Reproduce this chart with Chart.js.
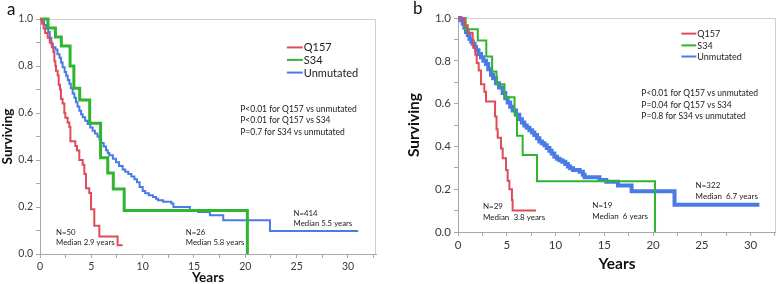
<!DOCTYPE html>
<html>
<head>
<meta charset="utf-8">
<script src="https://cdn.jsdelivr.net/npm/chart.js@4.4.1/dist/chart.umd.min.js"></script>
<style>
  html, body { margin: 0; padding: 0; background: #fff; }
  body { width: 777px; height: 284px; position: relative; overflow: hidden; }
  .panel { position: absolute; top: 0; height: 284px; }
  #wrap-a { left: 0; width: 386px; }
  #wrap-b { left: 390px; width: 387px; }
  .tag { position: absolute; font-family: Lato, sans-serif; font-size: 17px; color: #111; line-height: 1; }
</style>
</head>
<body>
<div class="panel" id="wrap-a"><canvas id="chart-a" width="386" height="284"></canvas></div>
<div class="panel" id="wrap-b"><canvas id="chart-b" width="387" height="284"></canvas></div>
<div class="tag" style="left:7px; top:0px;">a</div>
<div class="tag" style="left:413px; top:-1px;">b</div>
<script>
// --- Panel a: survival by group ---
const aQ157Years = [0, 0.2, 0.35, 0.5, 0.75, 0.95, 1.15, 1.3, 1.4, 1.5, 1.56, 1.72, 1.82, 1.95, 2.04, 2.2, 2.37, 2.47, 2.69, 2.86, 2.96, 3.44, 3.6, 3.83, 4.16, 4.32, 4.48, 4.8, 4.97, 5.29, 5.78, 7.56, 8.05];
const aQ157Surv  = [1, 0.98, 0.96, 0.94, 0.92, 0.9, 0.88, 0.86, 0.82, 0.8, 0.78, 0.76, 0.72, 0.7, 0.66, 0.64, 0.6, 0.58, 0.56, 0.54, 0.48, 0.46, 0.44, 0.4, 0.38, 0.34, 0.28, 0.26, 0.19, 0.12, 0.075, 0.037, 0.037];

const aS34Years = [0, 0.78, 1.5, 2.08, 2.93, 3.3, 3.87, 4.84, 5.9, 6.6, 7.14, 8.2, 20.2];
const aS34Surv  = [1, 0.962, 0.923, 0.885, 0.8, 0.705, 0.655, 0.556, 0.41, 0.345, 0.277, 0.185, 0];

const aUnmutYears = [0, 0.2, 0.4, 0.6, 0.8, 0.95, 1.1, 1.25, 1.5, 1.7, 1.9, 2.05, 2.2, 2.4, 2.55, 2.7, 2.86, 3.0, 3.18, 3.35, 3.5, 3.65, 3.83, 4.0, 4.16, 4.4, 4.64, 4.9, 5.13, 5.35, 5.6, 5.8, 5.95, 6.2, 6.43, 6.6, 6.75, 7.1, 7.4, 7.7, 8.05, 8.3, 8.6, 8.9, 9.2, 9.45, 9.7, 10.0, 10.25, 10.6, 11.0, 11.3, 11.5, 12.0, 12.8, 13.0, 14.6, 15.4, 16.55, 17.85, 22.4, 31.0];
const aUnmutSurv  = [1, 0.99, 0.975, 0.96, 0.945, 0.92, 0.895, 0.88, 0.87, 0.85, 0.835, 0.815, 0.795, 0.775, 0.758, 0.74, 0.724, 0.705, 0.683, 0.665, 0.646, 0.628, 0.61, 0.595, 0.582, 0.567, 0.553, 0.538, 0.525, 0.513, 0.5, 0.487, 0.472, 0.457, 0.442, 0.43, 0.42, 0.405, 0.39, 0.375, 0.36, 0.35, 0.34, 0.33, 0.318, 0.305, 0.285, 0.268, 0.258, 0.25, 0.243, 0.235, 0.229, 0.222, 0.215, 0.2, 0.186, 0.179, 0.165, 0.144, 0.098, 0.098];

// --- Panel b ---
const bQ157Years = [0, 0.65, 1.0, 1.5, 1.57, 1.78, 1.92, 2.12, 2.36, 2.7, 2.87, 3.8, 3.95, 4.07, 4.41, 4.58, 4.92, 5.09, 5.27, 5.53, 5.6, 8.0];
const bQ157Surv  = [1, 0.966, 0.931, 0.897, 0.862, 0.828, 0.79, 0.755, 0.69, 0.655, 0.61, 0.54, 0.48, 0.44, 0.39, 0.345, 0.29, 0.24, 0.2, 0.15, 0.1, 0.1];

const bS34Years = [0, 0.78, 2.03, 2.9, 3.5, 3.95, 4.77, 5.8, 6.05, 6.63, 8.1, 20.2];
const bS34Surv  = [1, 0.947, 0.895, 0.82, 0.75, 0.69, 0.63, 0.55, 0.45, 0.36, 0.237, 0];

const bUnmutYears = [0, 0.25, 0.48, 0.65, 0.82, 1.0, 1.17, 1.35, 1.5, 1.7, 1.85, 2.1, 2.36, 2.6, 2.87, 3.1, 3.38, 3.6, 3.89, 4.2, 4.58, 4.85, 5.09, 5.35, 5.6, 5.95, 6.29, 6.55, 6.8, 7.05, 7.32, 7.6, 7.83, 8.1, 8.34, 8.6, 8.86, 9.1, 9.37, 9.6, 9.88, 10.15, 10.4, 10.7, 11.0, 11.27, 11.5, 11.79, 12.47, 12.8, 12.98, 14.5, 15.2, 16.4, 17.8, 22.2, 30.9];
const bUnmutSurv  = [1, 0.99, 0.974, 0.955, 0.935, 0.92, 0.903, 0.89, 0.88, 0.865, 0.849, 0.832, 0.817, 0.8, 0.785, 0.76, 0.735, 0.718, 0.695, 0.675, 0.65, 0.625, 0.605, 0.585, 0.568, 0.548, 0.527, 0.512, 0.498, 0.487, 0.476, 0.465, 0.453, 0.438, 0.423, 0.415, 0.405, 0.393, 0.38, 0.367, 0.352, 0.342, 0.335, 0.328, 0.318, 0.306, 0.298, 0.29, 0.282, 0.267, 0.256, 0.243, 0.235, 0.217, 0.19, 0.127, 0.127];

// tick labels
const seriesNames = ['Q157', 'S34', 'Unmutated'];
const xTickLabels = [0, 5, 10, 15, 20, 25, 30];
const yTickLabels = [0, 0.2, 0.4, 0.6, 0.8, 1.0];

const aPText = ['P<0.01 for Q157 vs unmutated', 'P<0.01 for Q157 vs S34', 'P=0.7 for S34 vs unmutated'];
const bPText = ['P<0.01 for Q157 vs unmutated', 'P=0.04 for Q157 vs S34', 'P=0.8 for S34 vs unmutated'];
const aGroupNotes = [['N=50', 'Median 2.9 years'], ['N=26', 'Median 5.8 years'], ['N=414', 'Median 5.5 years']];
const bGroupNotes = [['N=29', 'Median  3.8 years'], ['N=19', 'Median  6 years'], ['N=322', 'Median  6.7 years']];

const RED = '#e04b5a';
const GREEN = '#2fb52f';
const BLUE = '#4a7ae6';
const FONT = 'Lato, "Open Sans", sans-serif';

function toPoints(xs, ys) {
    return xs.map((x, i) => ({ x: x, y: ys[i] }));
}

// frame, legend and text notes inside the plot area
const panelDecor = {
    id: 'panelDecor',
    beforeDatasetsDraw(chart, args, opts) {
        const { ctx, chartArea: ca } = chart;
        ctx.save();
        ctx.strokeStyle = '#cfcfcf';
        ctx.lineWidth = 1;
        ctx.beginPath();
        ctx.moveTo(ca.left, ca.top + 0.5);
        ctx.lineTo(ca.right - 0.5, ca.top + 0.5);
        ctx.lineTo(ca.right - 0.5, ca.bottom);
        ctx.stroke();
        ctx.restore();
    },
    afterDatasetsDraw(chart, args, opts) {
        const { ctx, scales: { x, y } } = chart;
        ctx.save();
        ctx.textBaseline = 'middle';
        ctx.textAlign = 'left';
        // legend
        const lg = opts.legend;
        chart.data.datasets.forEach((ds, i) => {
            const py = y.getPixelForValue(lg.rows[i]);
            ctx.strokeStyle = ds.borderColor;
            ctx.lineWidth = 2;
            ctx.beginPath();
            ctx.moveTo(x.getPixelForValue(lg.x0), py);
            ctx.lineTo(x.getPixelForValue(lg.x1), py);
            ctx.stroke();
            ctx.fillStyle = '#222';
            ctx.font = lg.size + 'px ' + FONT;
            ctx.fillText(ds.label, x.getPixelForValue(lg.x1) + 1, py + 0.5);
        });
        // p values
        const pv = opts.pvalues;
        ctx.font = pv.size + 'px ' + FONT;
        pv.lines.forEach((t, i) => {
            ctx.fillText(t, x.getPixelForValue(pv.x), y.getPixelForValue(pv.rows[i]));
        });
        // N / median notes
        opts.notes.forEach(n => {
            ctx.font = n.size + 'px ' + FONT;
            n.lines.forEach((t, i) => {
                ctx.fillText(t, x.getPixelForValue(n.x), y.getPixelForValue(n.rows[i]));
            });
        });
        ctx.restore();
    }
};

function makePanel(canvasId, cfg) {
    const canvas = document.getElementById(canvasId);
    const W = canvas.width, H = canvas.height;
    const area = cfg.area;
    return new Chart(canvas.getContext('2d'), {
        type: 'line',
        data: {
            datasets: [
                { label: seriesNames[0], data: toPoints(cfg.q157[0], cfg.q157[1]), borderColor: RED, borderWidth: cfg.widths[0] },
                { label: seriesNames[1], data: toPoints(cfg.s34[0], cfg.s34[1]), borderColor: GREEN, borderWidth: cfg.widths[1] },
                { label: seriesNames[2], data: toPoints(cfg.unmut[0], cfg.unmut[1]), borderColor: BLUE, borderWidth: cfg.widths[2] }
            ].map(ds => Object.assign(ds, { stepped: 'before', pointRadius: 0, fill: false, clip: 6 }))
        },
        options: {
            responsive: false,
            animation: false,
            events: [],
            layout: { padding: { top: area.top, right: W - area.right, left: 0, bottom: 0 } },
            plugins: {
                legend: { display: false },
                tooltip: { enabled: false },
                panelDecor: cfg.decor
            },
            scales: {
                x: {
                    type: 'linear',
                    min: 0,
                    max: cfg.xMax,
                    afterFit: (s) => { s.height = H - area.bottom; },
                    afterBuildTicks: (s) => {
                        s.ticks = [];
                        for (let v = 0; v <= cfg.xMax; v += 2.5) s.ticks.push({ value: v });
                    },
                    ticks: {
                        color: '#3a3a3a',
                        font: { family: FONT, size: cfg.tickSize },
                        padding: cfg.xTickPad,
                        maxRotation: 0,
                        autoSkip: false,
                        callback: (v) => xTickLabels.includes(v) ? String(v) : ''
                    },
                    grid: { drawOnChartArea: false, drawTicks: true, tickLength: 4, color: '#a8a8a8' },
                    border: { color: '#a8a8a8' },
                    title: {
                        display: true, text: 'Years', color: '#111',
                        font: { family: FONT, size: cfg.titleSize, weight: 'bold', lineHeight: 1 },
                        padding: { top: 0, bottom: cfg.xTitlePad }
                    }
                },
                y: {
                    type: 'linear',
                    min: 0,
                    max: 1,
                    afterFit: (s) => { s.width = area.left; },
                    afterBuildTicks: (s) => {
                        s.ticks = [];
                        for (let i = 0; i <= 10; i++) s.ticks.push({ value: i / 10 });
                    },
                    ticks: {
                        color: '#3a3a3a',
                        font: { family: FONT, size: cfg.tickSize },
                        padding: 3,
                        callback: (v) => yTickLabels.some(t => Math.abs(t - v) < 1e-6) ? v.toFixed(1) : ''
                    },
                    grid: { drawOnChartArea: false, drawTicks: true, tickLength: 4, color: '#a8a8a8' },
                    border: { color: '#a8a8a8' },
                    title: {
                        display: true, text: 'Surviving', color: '#111',
                        font: { family: FONT, size: cfg.titleSize, weight: 'bold', lineHeight: 1 },
                        padding: { top: cfg.yTitlePad, bottom: 0 }
                    }
                }
            }
        },
        plugins: [panelDecor]
    });
}

makePanel('chart-a', {
    area: { left: 40, right: 376, top: 19, bottom: 254 },
    xMax: 32.73,
    widths: [2, 3, 2],
    tickSize: 10.5,
    titleSize: 13.5,
    xTickPad: 2,
    xTitlePad: 0,
    yTitlePad: 1,
    q157: [aQ157Years, aQ157Surv],
    s34: [aS34Years, aS34Surv],
    unmut: [aUnmutYears, aUnmutSurv],
    decor: {
        legend: { x0: 24.05, x1: 25.6, rows: [0.879, 0.826, 0.772], size: 11 },
        pvalues: { x: 19.5, rows: [0.617, 0.569, 0.52], size: 8.5, lines: aPText },
        notes: [
            { x: 1.56, rows: [0.093, 0.05], size: 7.8, lines: aGroupNotes[0] },
            { x: 14.2, rows: [0.09, 0.047], size: 7.8, lines: aGroupNotes[1] },
            { x: 24.7, rows: [0.171, 0.128], size: 7.8, lines: aGroupNotes[2] }
        ]
    }
});

makePanel('chart-b', {
    area: { left: 68, right: 386, top: 18, bottom: 232 },
    xMax: 32.6,
    widths: [2, 2, 4],
    tickSize: 11.5,
    titleSize: 15.5,
    xTickPad: 2,
    xTitlePad: 12,
    yTitlePad: 16,
    q157: [bQ157Years, bQ157Surv],
    s34: [bS34Years, bS34Surv],
    unmut: [bUnmutYears, bUnmutSurv],
    decor: {
        legend: { x0: 22.9, x1: 24.43, rows: [0.927, 0.872, 0.82], size: 9 },
        pvalues: { x: 18.8, rows: [0.646, 0.593, 0.543], size: 8.5, lines: bPText },
        notes: [
            { x: 2.56, rows: [0.12, 0.07], size: 8, lines: bGroupNotes[0] },
            { x: 13.77, rows: [0.122, 0.075], size: 8, lines: bGroupNotes[1] },
            { x: 24.36, rows: [0.219, 0.168], size: 8, lines: bGroupNotes[2] }
        ]
    }
});
</script>
</body>
</html>
